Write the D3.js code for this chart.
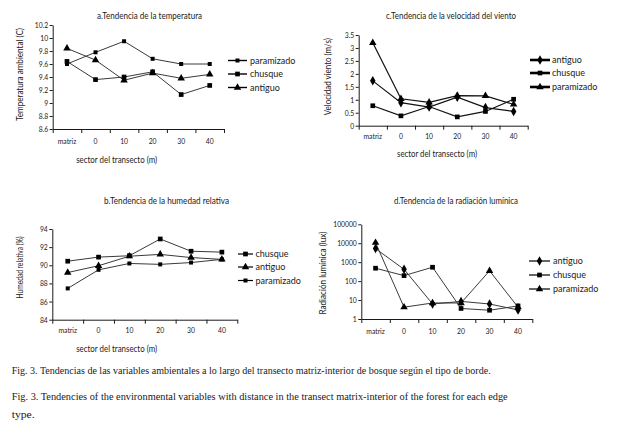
<!DOCTYPE html>
<html>
<head>
<meta charset="utf-8">
<script src="https://cdn.jsdelivr.net/npm/d3@7"></script>
<style>
  html, body { margin: 0; padding: 0; background: #fff; }
  svg { display: block; }
</style>
</head>
<body>
<div id="chart"></div>
<script>
// ---------------- DATA ----------------
const categories = ["matriz", "0", "10", "20", "30", "40"];

// a. Temperatura ambiental (C)
const tempParamizado = [9.60, 9.78, 9.95, 9.68, 9.60, 9.60];
const tempChusque    = [9.64, 9.36, 9.40, 9.48, 9.13, 9.27];
const tempAntiguo    = [9.84, 9.66, 9.35, 9.46, 9.38, 9.44];
const tempTicks = [8.6, 8.8, 9, 9.2, 9.4, 9.6, 9.8, 10, 10.2];

// b. Humedad relativa (%)
const humChusque    = [90.45, 90.90, 91.05, 92.90, 91.55, 91.45];
const humAntiguo    = [89.20, 89.95, 91.00, 91.20, 90.85, 90.65];
const humParamizado = [87.45, 89.50, 90.20, 90.10, 90.30, 90.65];
const humTicks = [84, 86, 88, 90, 92, 94];

// c. Velocidad viento (m/s)
const windAntiguo    = [1.73, 0.89, 0.72, 1.10, 0.70, 0.55];
const windChusque    = [0.77, 0.38, 0.74, 0.34, 0.55, 1.02];
const windParamizado = [3.20, 1.04, 0.90, 1.16, 1.15, 0.82];
const windTicks = [0, 0.5, 1, 1.5, 2, 2.5, 3, 3.5];

// d. Radiación lumínica (lux)
const luxAntiguo    = [5200, 420, 6.2, 8.5, 6.2, 3.0];
const luxChusque    = [480, 195, 540, 3.6, 2.9, 4.9];
const luxParamizado = [10700, 4.2, 7, 7, 350, 4.2];
const luxTicks = [1, 10, 100, 1000, 10000, 100000];

const captionES = "Fig. 3. Tendencias de las variables ambientales a lo largo del transecto matriz-interior de bosque según el tipo de borde.";
const captionEN1 = "Fig. 3. Tendencies of the environmental variables with distance in the transect matrix-interior of the forest for each edge";
const captionEN2 = "type.";

// ---------------- DRAWING ----------------
const W = 623, H = 431;
const FONT = "Lato, 'DejaVu Sans', sans-serif";
const INK = "#1a1a1a";
const TX = 0.85; // horizontal squeeze for tick labels

const svg = d3.select("#chart").append("svg")
  .attr("width", W).attr("height", H)
  .attr("viewBox", `0 0 ${W} ${H}`)
  .style("font-family", FONT);

svg.append("rect").attr("width", W).attr("height", H).attr("fill", "#fff");

const symbols = {
  square: d3.symbol().type(d3.symbolSquare).size(22),
  smallSquare: d3.symbol().type(d3.symbolSquare).size(16),
  triangle: d3.symbol().type(d3.symbolTriangle).size(24),
  diamond: d3.symbol().type(d3.symbolDiamond).size(26),
};

function fitText(g, str, cx, cy, len, size, rotate) {
  const t = g.append("text")
    .attr("text-anchor", "middle")
    .attr("font-size", size)
    .attr("fill", INK)
    .attr("textLength", len)
    .attr("lengthAdjust", "spacingAndGlyphs")
    .text(str);
  if (rotate) {
    t.attr("transform", `translate(${cx + size * 0.35},${cy}) rotate(-90)`);
  } else {
    t.attr("x", cx).attr("y", cy + size * 0.35);
  }
  return t;
}

function panel(cfg) {
  const g = svg.append("g");
  const x = d3.scaleBand().domain(categories).range([cfg.x0, cfg.x1]);
  const xb = d3.scaleLinear().domain([0, categories.length]).range([cfg.x0, cfg.x1]);
  const y = (cfg.log ? d3.scaleLog() : d3.scaleLinear())
    .domain(cfg.domain).range([cfg.yb, cfg.yt]);

  // y axis
  const ya = g.append("g").attr("transform", `translate(${cfg.x0},0)`)
    .call(d3.axisLeft(y).tickValues(cfg.ticks).tickSize(3).tickSizeOuter(0)
      .tickFormat(d => String(d)));
  ya.selectAll("text").attr("font-size", 8).attr("fill", INK)
    .attr("x", -4.5 / TX).attr("transform", `scale(${TX},1)`)
    .style("font-family", FONT);
  ya.selectAll("line").attr("stroke", INK);
  ya.select(".domain").attr("stroke", INK);

  // x axis: tick marks at band edges
  const xa = g.append("g").attr("transform", `translate(0,${cfg.yb})`)
    .call(d3.axisBottom(xb).tickValues(d3.range(categories.length + 1))
      .tickSize(4).tickSizeOuter(0).tickFormat(""));
  xa.selectAll("line").attr("stroke", INK);
  xa.select(".domain").attr("stroke", INK);

  // x labels at band centres
  const xl = g.append("g").attr("transform", `translate(0,${cfg.yb})`)
    .call(d3.axisBottom(x).tickSize(0).tickPadding(cfg.labelPad));
  xl.select(".domain").remove();
  xl.selectAll("text").attr("font-size", 8).attr("fill", INK)
    .attr("transform", `scale(${TX},1)`).style("font-family", FONT);

  // series
  const line = d3.line()
    .x((d, i) => x(categories[i]) + x.bandwidth() / 2)
    .y(d => y(d));

  cfg.series.forEach(s => {
    g.append("path").datum(s.values)
      .attr("d", line).attr("fill", "none")
      .attr("stroke", cfg.lineColor).attr("stroke-width", cfg.lineWidth);
  });
  cfg.series.forEach(s => {
    g.append("g").selectAll("path").data(s.values).join("path")
      .attr("d", symbols[s.symbol]())
      .attr("transform", (d, i) => `translate(${x(categories[i]) + x.bandwidth() / 2},${y(d)})`)
      .attr("fill", "#000");
  });

  // titles
  fitText(g, cfg.title, cfg.title_cx, cfg.title_cy, cfg.title_len, 9);
  fitText(g, cfg.ytitle, cfg.yt_cx, cfg.yt_cy, cfg.yt_len, 9, true);
  if (cfg.xtitle) fitText(g, cfg.xtitle, cfg.xt_cx, cfg.xt_cy, cfg.xt_len, 9);

  // legend
  const lg = g.append("g");
  cfg.series.forEach((s, i) => {
    const ry = cfg.leg.rows[i];
    lg.append("line")
      .attr("x1", cfg.leg.l0).attr("x2", cfg.leg.l1)
      .attr("y1", ry).attr("y2", ry)
      .attr("stroke", "#000").attr("stroke-width", cfg.leg.width);
    lg.append("path").attr("d", symbols[s.symbol]())
      .attr("transform", `translate(${(cfg.leg.l0 + cfg.leg.l1) / 2},${ry})`)
      .attr("fill", "#000");
    lg.append("text").attr("x", cfg.leg.tx).attr("y", ry + 3)
      .attr("font-size", 9).attr("fill", INK).text(s.name);
  });
}

panel({
  x0: 52.7, x1: 224, yt: 25, yb: 129, domain: [8.6, 10.2], ticks: tempTicks,
  labelPad: 9, lineColor: "#3a3a3a", lineWidth: 1,
  series: [
    { name: "paramizado", values: tempParamizado, symbol: "smallSquare" },
    { name: "chusque", values: tempChusque, symbol: "square" },
    { name: "antiguo", values: tempAntiguo, symbol: "triangle" },
  ],
  title: "a.Tendencia de la temperatura", title_cx: 149.5, title_cy: 15.7, title_len: 105,
  ytitle: "Temperatura ambiental (C)", yt_cx: 20, yt_cy: 74.5, yt_len: 93,
  xtitle: "sector del transecto (m)", xt_cx: 116.7, xt_cy: 160, xt_len: 81,
  leg: { l0: 228, l1: 247, tx: 250, rows: [60.5, 74, 87.5], width: 1.4 },
});

panel({
  x0: 52.3, x1: 237.3, yt: 229, yb: 319.7, domain: [84, 94], ticks: humTicks,
  labelPad: 8, lineColor: "#3a3a3a", lineWidth: 1,
  series: [
    { name: "chusque", values: humChusque, symbol: "square" },
    { name: "antiguo", values: humAntiguo, symbol: "triangle" },
    { name: "paramizado", values: humParamizado, symbol: "smallSquare" },
  ],
  title: "b.Tendencia de la humedad relativa", title_cx: 166.5, title_cy: 200.7, title_len: 125,
  ytitle: "Humedad relativa (%)", yt_cx: 20, yt_cy: 267.5, yt_len: 62,
  xtitle: "sector del transecto (m)", xt_cx: 116.7, xt_cy: 348.7, xt_len: 81,
  leg: { l0: 238, l1: 253, tx: 255.5, rows: [254, 267, 280.5], width: 1.2 },
});

panel({
  x0: 358.7, x1: 527.7, yt: 35, yb: 125.7, domain: [0, 3.5], ticks: windTicks,
  labelPad: 8, lineColor: "#111", lineWidth: 1.2,
  series: [
    { name: "antiguo", values: windAntiguo, symbol: "diamond" },
    { name: "chusque", values: windChusque, symbol: "square" },
    { name: "paramizado", values: windParamizado, symbol: "triangle" },
  ],
  title: "c.Tendencia de la velocidad del viento", title_cx: 451, title_cy: 15.7, title_len: 130,
  ytitle: "Velocidad viento (m/s)", yt_cx: 328, yt_cy: 76.7, yt_len: 77,
  xtitle: "sector del transecto (m)", xt_cx: 437, xt_cy: 154, xt_len: 80,
  leg: { l0: 530, l1: 550, tx: 552, rows: [60, 73, 87], width: 2.6 },
});

panel({
  x0: 361.3, x1: 532.3, yt: 224.3, yb: 319, domain: [1, 100000], ticks: luxTicks, log: true,
  labelPad: 9, lineColor: "#3a3a3a", lineWidth: 1,
  series: [
    { name: "antiguo", values: luxAntiguo, symbol: "diamond" },
    { name: "chusque", values: luxChusque, symbol: "square" },
    { name: "paramizado", values: luxParamizado, symbol: "triangle" },
  ],
  title: "d.Tendencia de la radiación lumínica", title_cx: 456, title_cy: 200.7, title_len: 124,
  ytitle: "Radiación lumínica (lux)", yt_cx: 322.7, yt_cy: 273, yt_len: 83,
  xtitle: null,
  leg: { l0: 529, l1: 550, tx: 553, rows: [261, 275, 289], width: 1.2 },
});

// caption
const cap = svg.append("g").attr("font-family", "'Liberation Serif', 'Times New Roman', serif")
  .attr("font-size", 11).attr("fill", INK);
cap.append("text").attr("x", 11.7).attr("y", 374).attr("textLength", 479)
  .attr("lengthAdjust", "spacingAndGlyphs").text(captionES);
cap.append("text").attr("x", 11.7).attr("y", 400).attr("textLength", 496)
  .attr("lengthAdjust", "spacingAndGlyphs").text(captionEN1);
cap.append("text").attr("x", 11.7).attr("y", 418).attr("textLength", 23)
  .attr("lengthAdjust", "spacingAndGlyphs").text(captionEN2);
</script>
</body>
</html>
